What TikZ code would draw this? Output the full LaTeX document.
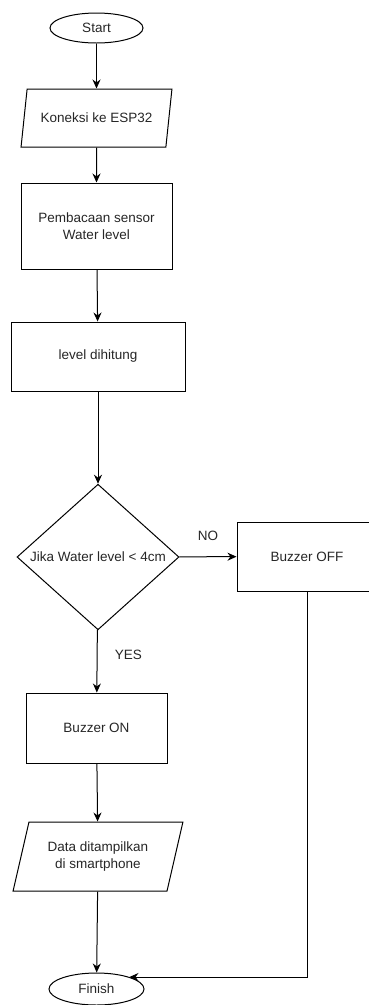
\documentclass[tikz,border=0pt]{standalone}
\usepackage{fontspec}
\setmainfont{Liberation Sans}
\usepackage{tikz}
\usetikzlibrary{shapes.geometric, positioning, arrows.meta}

\tikzset{
    blok/.style={draw, line width=1pt, rectangle, align=center, inner sep=2pt},
    io/.style={draw, line width=1pt, trapezium, trapezium left angle=70, trapezium right angle=110, trapezium stretches=true, align=center, inner sep=2pt},
    ujung/.style={draw, line width=1pt, ellipse, inner sep=0pt},
    pilih/.style={draw, line width=1pt, diamond, inner sep=0pt},
    panah/.style={line width=1pt, -{Stealth[length=9pt, width=8pt]}}
}

\begin{document}
\begin{tikzpicture}[x=1pt, y=-1pt, font=\fontsize{13.5}{16.5}\selectfont, text=black!85]
            \useasboundingbox (0,0) rectangle (369,1005);
            % Simpul
            \node[ujung, minimum width=93pt, minimum height=30pt] (start) at (96.5,28) {Start};
            \node[io, minimum width=151pt, minimum height=58pt] (koneksi) at (96.5,118) {Koneksi ke ESP32};
            \node[blok, minimum width=151pt, minimum height=86pt] (baca) at (96.5,226) {Pembacaan sensor\\Water level};
            \node[blok, minimum width=174pt, minimum height=69pt] (hitung) at (98,356.5) {level dihitung};
            \node[pilih, minimum width=162pt, minimum height=133pt] (cek) at (98,557) {Jika Water level < 4cm};
            \node[blok, minimum width=140pt, minimum height=69pt] (off) at (307,556.5) {Buzzer OFF};
            \node[blok, minimum width=141pt, minimum height=70pt] (on) at (96.5,728) {Buzzer ON};
            \node[io, minimum width=170pt, minimum height=69pt] (tampil) at (98,856.5) {Data ditampilkan\\di smartphone};
            \node[ujung, minimum width=95pt, minimum height=32pt] (finish) at (96.5,989) {Finish};
            
            % Panah
            \path[panah]
            (start) edge (koneksi)
            (koneksi) edge (baca)
            (baca) edge (hitung)
            (hitung) edge (cek)
            (cek) edge node[above=12pt] {NO} (off)
            (cek) edge node[pos=0.4, right=14pt] {YES} (on)
            (on) edge (tampil)
            (tampil) edge (finish);
            \draw[panah] (off.south) |- (finish.20);
        \end{tikzpicture}
\end{document}
